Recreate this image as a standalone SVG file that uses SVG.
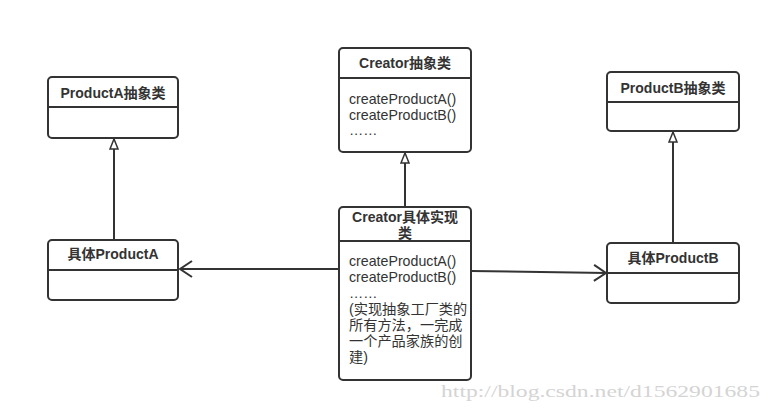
<svg xmlns="http://www.w3.org/2000/svg" width="771" height="412" viewBox="0 0 771 412">
<style>
.box{fill:#fff;stroke:#333;stroke-width:2}
.div{stroke:#333;stroke-width:2}
.h{font-family:"Liberation Sans","Noto Sans CJK SC",sans-serif;font-weight:bold;font-size:14px;fill:#333;text-anchor:middle}
.b{font-family:"Liberation Sans","Noto Sans CJK SC",sans-serif;font-size:14.2px;fill:#333}
.c{stroke:#333;stroke-width:2;fill:none}
.wm{font-family:"Liberation Serif",serif;font-size:17px;fill:#d4d4d4}
</style>
<defs>
<marker id="tri" viewBox="0 0 12 10" refX="11" refY="5" markerWidth="12" markerHeight="10" markerUnits="userSpaceOnUse" orient="auto">
<path d="M1,1 L11,5 L1,9 Z" fill="#fff" stroke="#333" stroke-width="1.5"/>
</marker>
<marker id="open" viewBox="0 0 14 18" refX="13" refY="9" markerWidth="14" markerHeight="18" markerUnits="userSpaceOnUse" orient="auto">
<path d="M1,1 L13,9 L1,17" fill="none" stroke="#333" stroke-width="2"/>
</marker>
</defs>
<rect width="771" height="412" fill="#fff"/>
<g id="connectors">
<line class="c" x1="114" y1="240" x2="114" y2="139" marker-end="url(#tri)"/>
<line class="c" x1="405" y1="207" x2="405" y2="153" marker-end="url(#tri)"/>
<line class="c" x1="673" y1="243" x2="673" y2="132" marker-end="url(#tri)"/>
<line class="c" x1="338" y1="269" x2="180" y2="269" marker-end="url(#open)"/>
<line class="c" x1="471" y1="271" x2="606" y2="273" marker-end="url(#open)"/>
</g>
<g id="productA-abstract">
<rect class="box" x="48" y="77" width="130" height="61" rx="4"/>
<line class="div" x1="48" y1="107" x2="178" y2="107"/>
<text class="h" x="113" y="98">ProductA抽象类</text>
</g>
<g id="creator-abstract">
<rect class="box" x="339" y="48" width="132" height="104" rx="4"/>
<line class="div" x1="339" y1="78" x2="471" y2="78"/>
<text class="h" x="405" y="68">Creator抽象类</text>
<text class="b" x="349" y="104">createProductA()</text>
<text class="b" x="349" y="120">createProductB()</text>
<text class="b" x="349" y="135">……</text>
</g>
<g id="productB-abstract">
<rect class="box" x="607" y="72" width="132" height="59" rx="4"/>
<line class="div" x1="607" y1="102" x2="739" y2="102"/>
<text class="h" x="673" y="93">ProductB抽象类</text>
</g>
<g id="productA-concrete">
<rect class="box" x="48" y="240" width="130" height="60" rx="4"/>
<line class="div" x1="48" y1="270" x2="178" y2="270"/>
<text class="h" x="113" y="259">具体ProductA</text>
</g>
<g id="creator-concrete">
<rect class="box" x="339" y="207" width="132" height="173" rx="4"/>
<line class="div" x1="339" y1="241" x2="471" y2="241"/>
<text class="h" x="405" y="222">Creator具体实现</text>
<text class="h" x="405" y="238">类</text>
<text class="b" x="349" y="266">createProductA()</text>
<text class="b" x="349" y="282">createProductB()</text>
<text class="b" x="349" y="298">……</text>
<text class="b" x="349" y="314">(实现抽象工厂类的</text>
<text class="b" x="349" y="330">所有方法，一完成</text>
<text class="b" x="349" y="346">一个产品家族的创</text>
<text class="b" x="349" y="362">建)</text>
</g>
<g id="productB-concrete">
<rect class="box" x="607" y="243" width="132" height="60" rx="4"/>
<line class="div" x1="607" y1="273" x2="739" y2="273"/>
<text class="h" x="673" y="263">具体ProductB</text>
</g>
<text class="wm" x="441" y="397" textLength="319" lengthAdjust="spacingAndGlyphs">http://blog.csdn.net/d1562901685</text>
</svg>
